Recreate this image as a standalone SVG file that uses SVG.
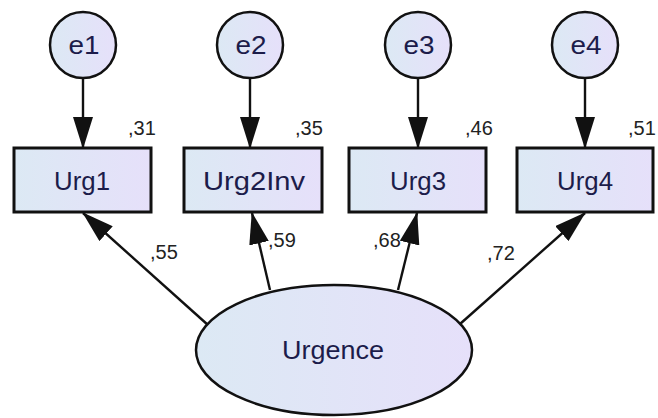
<svg xmlns="http://www.w3.org/2000/svg" width="658" height="418" viewBox="0 0 658 418">
<style>
.node{stroke:#111;stroke-width:2.5}
.box{stroke:#111;stroke-width:3}
.lbl{font-family:"Liberation Sans",Arial,sans-serif;fill:#1c1c4a;text-anchor:middle}
.num{font-family:"Liberation Sans",Arial,sans-serif;fill:#222;font-size:20px}
.edge{stroke:#111;stroke-width:2.4;fill:none}
</style>
<defs>
<linearGradient id="fill" x1="0" y1="0" x2="1" y2="0">
<stop offset="0" stop-color="#dce9f4"/>
<stop offset="1" stop-color="#e6e0fa"/>
</linearGradient>
<marker id="arr" viewBox="0 0 32 20" refX="31" refY="10" markerWidth="32" markerHeight="20" markerUnits="userSpaceOnUse" orient="auto">
<path d="M0,0 L32,10 L0,20 z" fill="#111"/>
</marker>
</defs>
<rect width="658" height="418" fill="#fff"/>
<g id="connectors">
<line class="edge" x1="83" y1="79" x2="83" y2="148" marker-end="url(#arr)"/>
<line class="edge" x1="250" y1="79" x2="250" y2="148" marker-end="url(#arr)"/>
<line class="edge" x1="418" y1="79" x2="418" y2="148" marker-end="url(#arr)"/>
<line class="edge" x1="585" y1="79" x2="585" y2="148" marker-end="url(#arr)"/>
<line class="edge" x1="208" y1="325" x2="83" y2="213" marker-end="url(#arr)"/>
<line class="edge" x1="270" y1="290" x2="252" y2="213" marker-end="url(#arr)"/>
<line class="edge" x1="398" y1="290" x2="417" y2="213" marker-end="url(#arr)"/>
<line class="edge" x1="460" y1="324" x2="585" y2="213" marker-end="url(#arr)"/>
<text class="num" x="150" y="259">,55</text>
<text class="num" x="268" y="247">,59</text>
<text class="num" x="373" y="247">,68</text>
<text class="num" x="487" y="260">,72</text>
</g>
<g id="e1"><circle class="node" cx="83" cy="45" r="33" fill="url(#fill)"/><text class="lbl" x="84" y="54" font-size="26" textLength="31" lengthAdjust="spacingAndGlyphs">e1</text></g>
<g id="e2"><circle class="node" cx="250" cy="45" r="33" fill="url(#fill)"/><text class="lbl" x="251" y="54" font-size="26" textLength="31" lengthAdjust="spacingAndGlyphs">e2</text></g>
<g id="e3"><circle class="node" cx="418" cy="45" r="33" fill="url(#fill)"/><text class="lbl" x="419" y="54" font-size="26" textLength="31" lengthAdjust="spacingAndGlyphs">e3</text></g>
<g id="e4"><circle class="node" cx="585" cy="45" r="33" fill="url(#fill)"/><text class="lbl" x="586" y="54" font-size="26" textLength="31" lengthAdjust="spacingAndGlyphs">e4</text></g>
<g id="Urg1"><rect class="box" x="14" y="148" width="137" height="64" fill="url(#fill)"/><text class="lbl" x="82" y="190" font-size="26" textLength="56" lengthAdjust="spacingAndGlyphs">Urg1</text><text class="num" x="128" y="135">,31</text></g>
<g id="Urg2Inv"><rect class="box" x="184" y="148" width="138" height="64" fill="url(#fill)"/><text class="lbl" x="254" y="190" font-size="26" textLength="102" lengthAdjust="spacingAndGlyphs">Urg2Inv</text><text class="num" x="295" y="135">,35</text></g>
<g id="Urg3"><rect class="box" x="349" y="148" width="137" height="64" fill="url(#fill)"/><text class="lbl" x="418" y="190" font-size="26" textLength="56" lengthAdjust="spacingAndGlyphs">Urg3</text><text class="num" x="465" y="135">,46</text></g>
<g id="Urg4"><rect class="box" x="517" y="148" width="136" height="64" fill="url(#fill)"/><text class="lbl" x="585" y="190" font-size="26" textLength="56" lengthAdjust="spacingAndGlyphs">Urg4</text><text class="num" x="628" y="135">,51</text></g>
<g id="Urgence"><ellipse class="node" cx="334" cy="350" rx="138" ry="65" fill="url(#fill)"/><text class="lbl" x="333" y="359" font-size="26" textLength="102" lengthAdjust="spacingAndGlyphs">Urgence</text></g>
</svg>
